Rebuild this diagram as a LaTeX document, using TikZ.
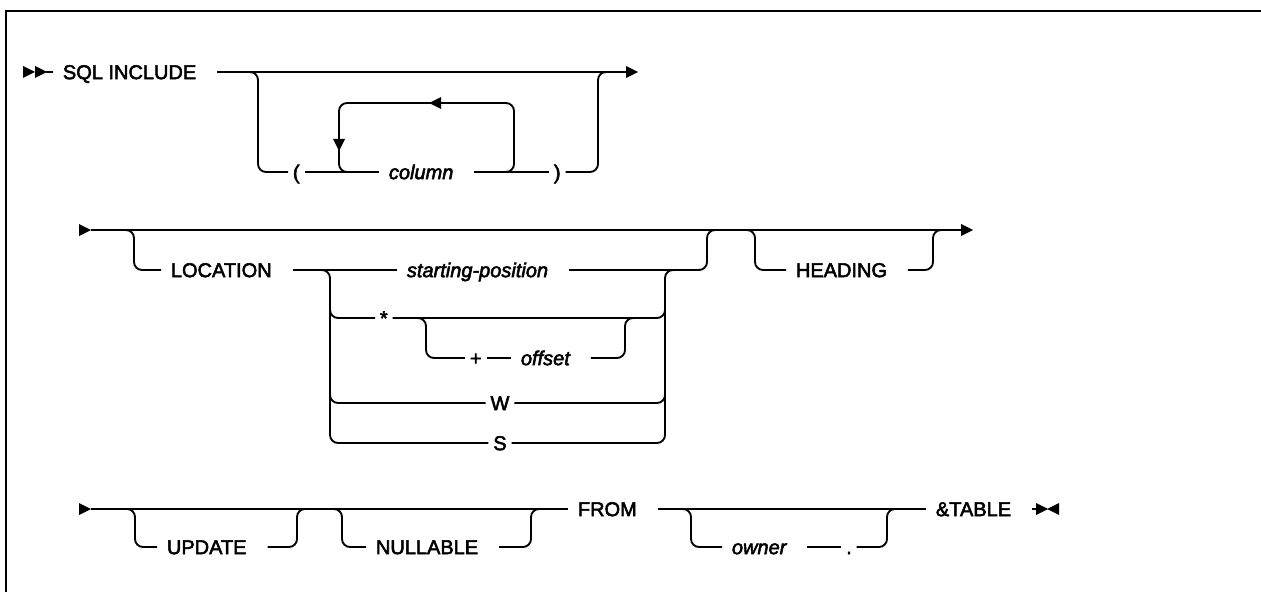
\documentclass[tikz,border=0pt]{standalone}
\usepackage{fontspec}
\setmainfont{Liberation Sans}[RawFeature={embolden=2.6}]

\tikzset{
  kw/.style={inner sep=0pt, text height=10.7pt, text depth=0pt,
    font=\fontsize{15pt}{18pt}\selectfont,
    execute at begin node={\hspace{6.75pt}}, execute at end node={\hspace{15pt}}},
  var/.style={kw, font=\fontsize{15pt}{18pt}\selectfont\itshape},
  pn/.style={inner sep=0pt, inner xsep=3pt, text height=10.7pt, text depth=0pt,
    font=\fontsize{15pt}{18pt}\selectfont},
  rc/.style={rounded corners=6pt},
  pointer/.pic={\fill[rotate=#1] (0,-6) -- (12,0) -- (0,6) -- cycle;}
}

\begin{document}
\begin{tikzpicture}[x=0.75pt, y=-0.75pt, line width=1.4pt]
\useasboundingbox (0,0) rectangle (1261,592);
\draw[line width=1.6pt] (6,592) -- (6,11) -- (1261,11);

% first line
\pic at (23,72) {pointer=0};
\pic at (35,72) {pointer=0};
\coordinate (s1) at (46,72);
\coordinate (e1) at (626,72);
\coordinate (f1) at (258,72);
\coordinate (j1) at (598,72);
\node[kw, anchor=west] (sql) at (53,72) {SQL INCLUDE};
\node[pn, anchor=west] (lpar) at (288,172) {(};
\node[var, anchor=west] (col) at (379,172) {column};
\node[pn, anchor=west] (rpar) at (549,172) {)};
\draw (s1) -- (sql.west);
\draw (sql.east) -- (e1);
\pic at (e1) {pointer=0};
\draw[rc] (f1) ++(-10,0) -- (f1) |- (lpar.west);
\draw (lpar.east) -- (col.west);
\draw (col.east) -- (rpar.west);
\draw[rc] (rpar.east) -| (j1) -- ++(10,0);
% repeat loop
\draw[rc] (500,172) -| (514,103) -| (339,172) -- (352,172);
\pic at (441,103) {pointer=180};
\pic at (339,139) {pointer=-90};

% second line
\pic at (79,230) {pointer=0};
\coordinate (s2) at (91,230);
\coordinate (e2) at (961,230);
\draw (s2) -- (e2);
\pic at (e2) {pointer=0};
\coordinate (f2) at (134,230);
\coordinate (g2) at (707,230);
\node[kw, anchor=west] (loc) at (161,270) {LOCATION};
\node[var, anchor=west] (spos) at (397,270) {starting-position};
\draw[rc] (f2) ++(-10,0) -- (f2) |- (loc.west);
\draw (loc.east) -- (spos.west);
\draw[rc] (spos.east) -| (g2) -- ++(10,0);
% position choices
\coordinate (c2) at (330,270);
\coordinate (c3) at (665,270);
\coordinate (v2) at (330,290);
\coordinate (v3) at (665,290);
\node[pn, anchor=west] (star) at (375,318) {*};
\node[pn] (optw) at (500,403) {W};
\node[pn] (opts) at (500,443) {S};
\draw[rc] (c2) ++(-10,0) -- (c2) |- (opts.west);
\draw[rc] (v2) |- (star.west);
\draw[rc] (v2) |- (optw.west);
\draw[rc] (star.east) -| (v3);
\draw[rc] (optw.east) -| (v3);
\draw[rc] (opts.east) -| (c3) -- ++(10,0);
% offset
\coordinate (h2) at (426,318);
\coordinate (k2) at (625,318);
\node[pn, anchor=west] (plus) at (465,358) {+};
\node[var, anchor=west] (offs) at (511,358) {offset};
\draw[rc] (h2) ++(-10,0) -- (h2) |- (plus.west);
\draw (plus.east) -- (offs.west);
\draw[rc] (offs.east) -| (k2) -- ++(10,0);
% heading
\coordinate (m2) at (755,230);
\coordinate (n2) at (933,230);
\node[kw, anchor=west] (head) at (786,270) {HEADING};
\draw[rc] (m2) ++(-10,0) -- (m2) |- (head.west);
\draw[rc] (head.east) -| (n2) -- ++(10,0);

% third line
\pic at (79,509) {pointer=0};
\coordinate (s3) at (91,509);
\node[kw, anchor=west] (from) at (568,509) {FROM};
\node[kw, anchor=west] (tbl) at (926,509) {\&TABLE};
\draw (s3) -- (from.west);
\draw (from.east) -- (tbl.west);
\coordinate (f3) at (135,509);
\coordinate (g3) at (297,509);
\node[kw, anchor=west] (upd) at (157,547) {UPDATE};
\draw[rc] (f3) ++(-10,0) -- (f3) |- (upd.west);
\draw[rc] (upd.east) -| (g3) -- ++(10,0);
\coordinate (f4) at (342,509);
\coordinate (g4) at (531,509);
\node[kw, anchor=west] (nul) at (366,547) {NULLABLE};
\draw[rc] (f4) ++(-10,0) -- (f4) |- (nul.west);
\draw[rc] (nul.east) -| (g4) -- ++(10,0);
\coordinate (f5) at (691,509);
\coordinate (g5) at (887,509);
\node[var, anchor=west] (own) at (722,547) {owner};
\node[pn] (dot) at (849,547) {.};
\draw[rc] (f5) ++(-10,0) -- (f5) |- (own.west);
\draw (own.east) -- (dot.west);
\draw[rc] (dot.east) -| (g5) -- ++(10,0);
\coordinate (e3) at (1036,509);
\draw (tbl.east) -- (e3);
\pic at (e3) {pointer=0};
\pic at (1059,509) {pointer=180};
\end{tikzpicture}
\end{document}
